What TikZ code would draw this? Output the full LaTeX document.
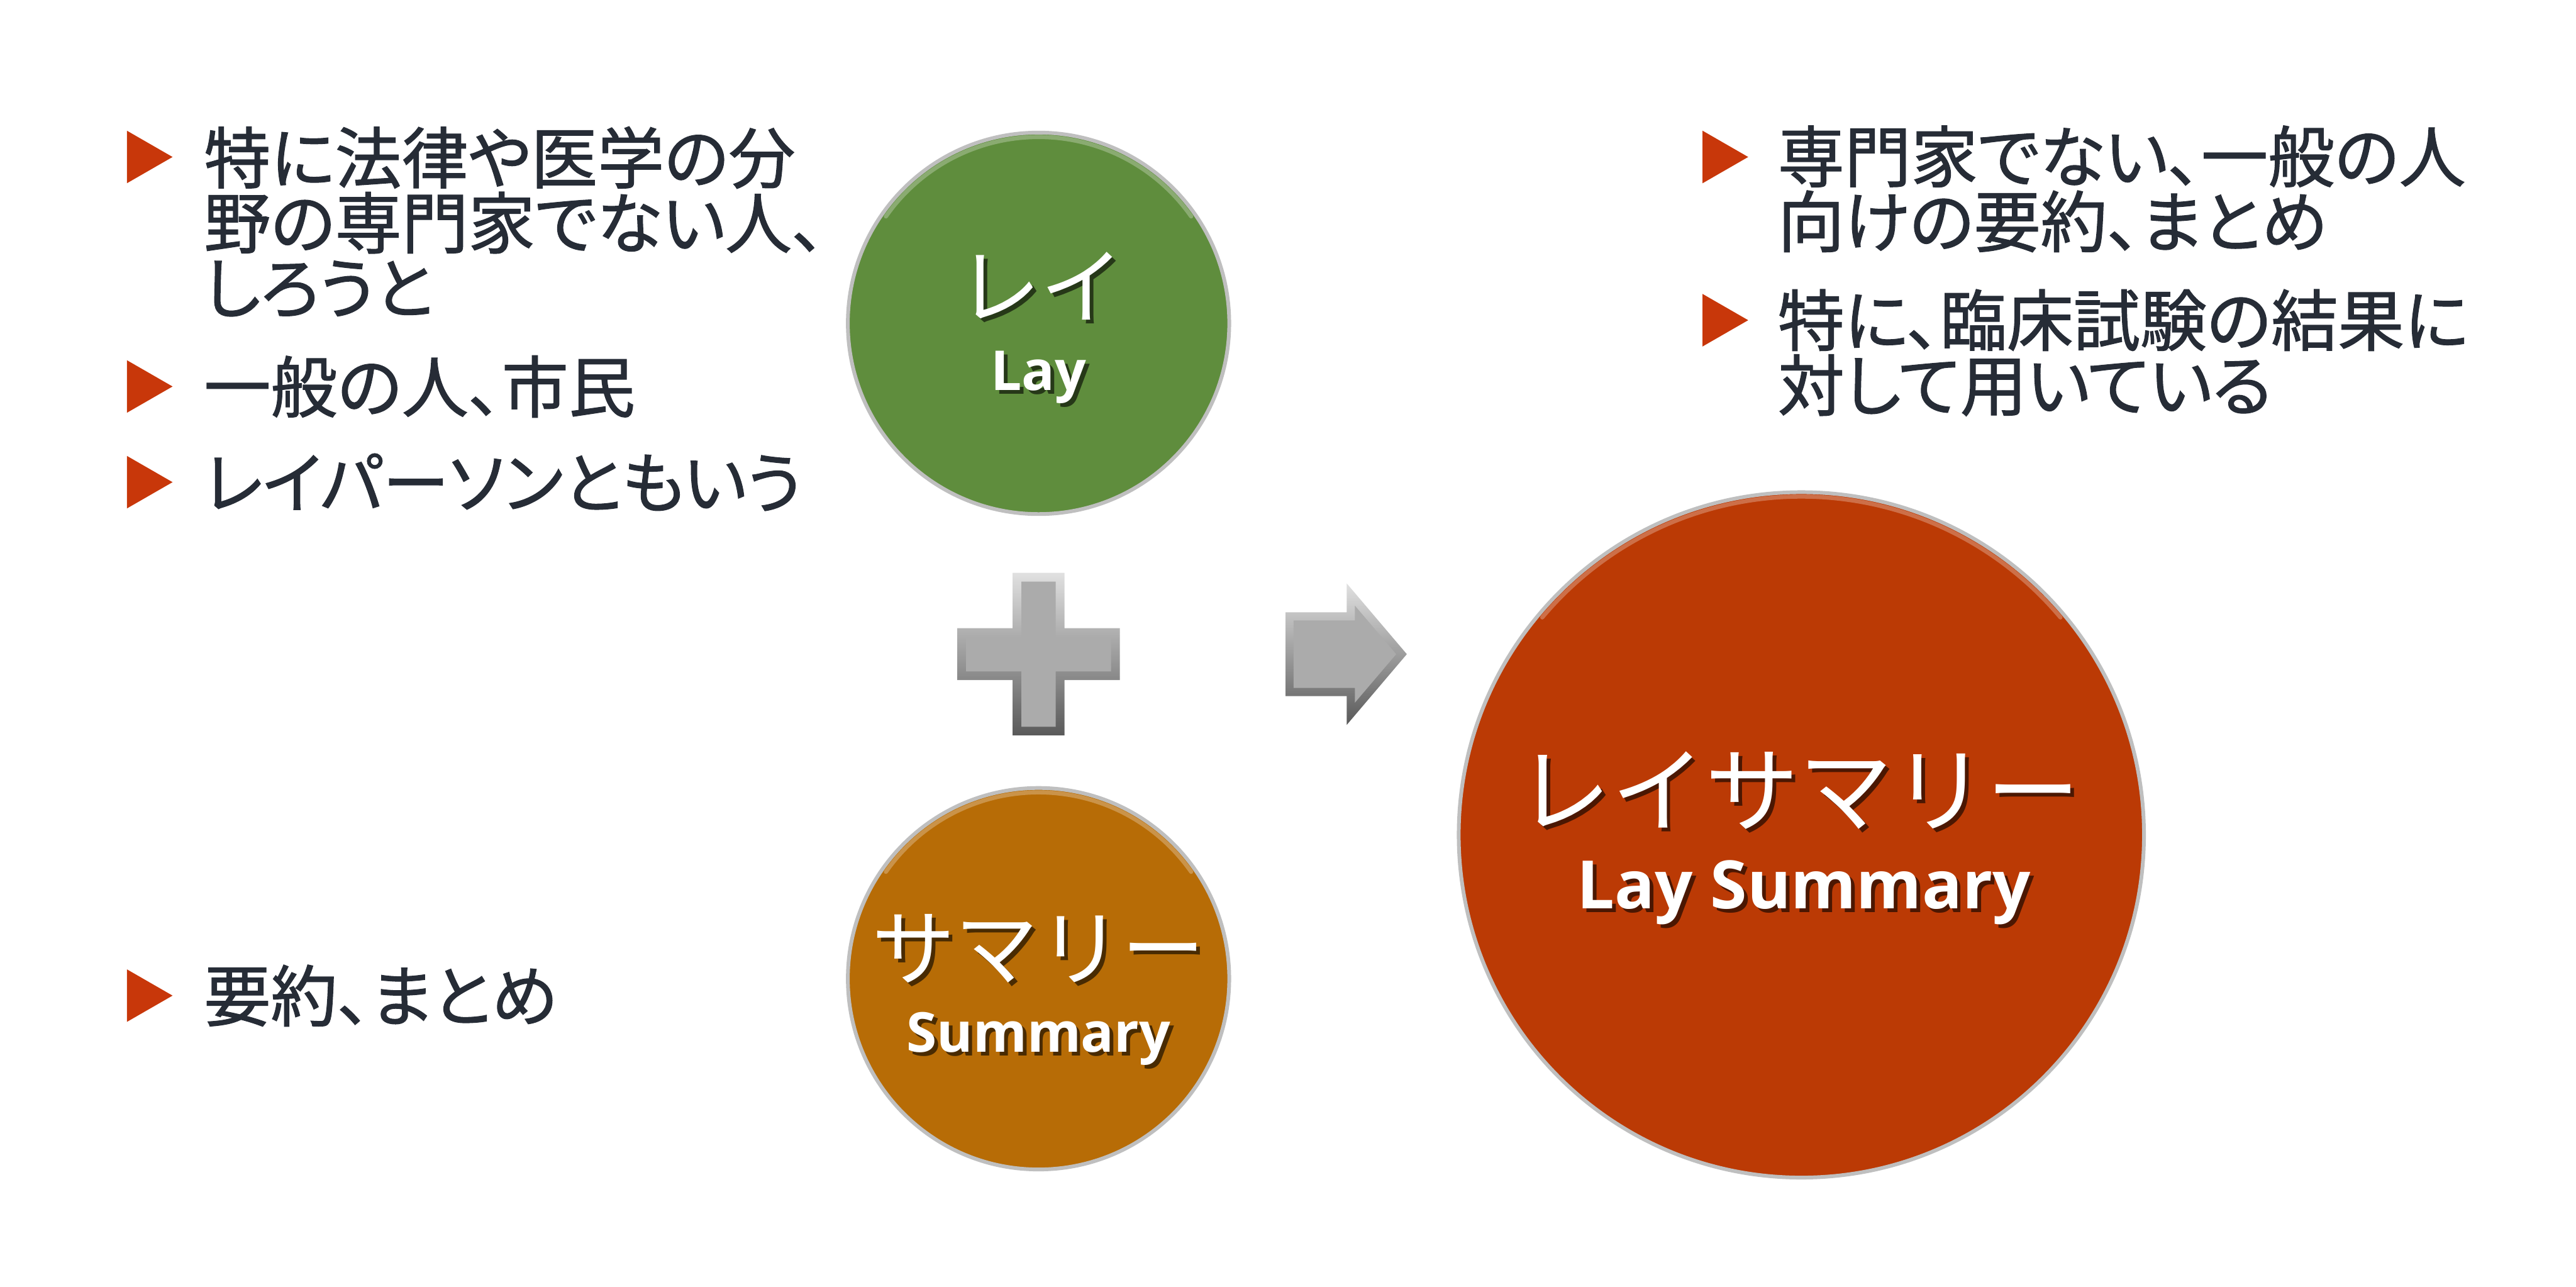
\documentclass[tikz,border=0pt]{standalone}
\usepackage{fontspec}
\newfontfamily\jpfont{Noto Sans CJK JP}
\newfontfamily\notefont{Noto Sans CJK JP}[RawFeature=+palt, FakeBold=1.2]
\newfontfamily\enfont{Open Sans}

\definecolor{textnavy}{RGB}{38,44,54}
\definecolor{bulletred}{RGB}{200,55,10}
\definecolor{laygreen}{RGB}{95,141,61}
\definecolor{sumorange}{RGB}{183,108,6}
\definecolor{layred}{RGB}{187,58,5}
\definecolor{facegray}{RGB}{171,171,171}

% white text with a dark copy under it
\newcommand{\shtext}[2]{\rlap{\kern0.9pt\raisebox{-0.9pt}{\color{#1}#2}}#2}

\tikzset{
  ball/.style={circle, draw=gray!50, line width=0.9pt, inner sep=0pt, outer sep=0pt},
  rim/.style={line width=1pt, line cap=round, opacity=0.45},
  bevel/.style={top color=black!12, bottom color=black!65},
  bullettext/.style={anchor=west, align=left, inner sep=0pt, text=textnavy, font=\notefont\fontsize{16}{15.6}\selectfont},
  balljp/.style={anchor=base, inner sep=0pt, text=white},
  ballen/.style={anchor=base, inner sep=0pt, text=white},
}

\begin{document}
\begin{tikzpicture}[x=0.75pt,y=0.75pt,yscale=-1,xscale=1]
%set diagram to the slide size
\path [fill=white] (0,0) rectangle (824,411.4);
\useasboundingbox (0,0) rectangle (824,411.4);

%Shape: Triangle
\fill [bulletred] (40.6,41.8) -- (55.2,50.2) -- (40.6,58.6) -- cycle ;
%Shape: Triangle
\fill [bulletred] (40.6,115.2) -- (55.2,123.6) -- (40.6,132) -- cycle ;
%Shape: Triangle
\fill [bulletred] (40.6,145.8) -- (55.2,154.2) -- (40.6,162.6) -- cycle ;
%Shape: Triangle
\fill [bulletred] (40.6,310) -- (55.2,318.4) -- (40.6,326.8) -- cycle ;
%Shape: Triangle
\fill [bulletred] (544.6,41.8) -- (559.2,50.2) -- (544.6,58.6) -- cycle ;
%Shape: Triangle
\fill [bulletred] (544.6,94) -- (559.2,102.4) -- (544.6,110.8) -- cycle ;

% Text Node
\node (legal) [bullettext] at (65,71) {特に法律や医学の分\\野の専門家でない人、\\しろうと};
% Text Node
\node (public) [bullettext] at (65,123.6) {一般の人、市民};
% Text Node
\node (person) [bullettext] at (65,154.2) {レイパーソンともいう};
% Text Node
\node (digest) [bullettext] at (65,318.4) {要約、まとめ};
% Text Node
\node (nonexpert) [bullettext] at (568.4,60.4) {専門家でない、一般の人\\向けの要約、まとめ};
% Text Node
\node (trials) [bullettext] at (568.4,112.8) {特に、臨床試験の結果に\\対して用いている};

%Shape: Circle
\node (lay) [ball, fill=laygreen, minimum size=91.5pt] at (332.2,103.4) {};
\draw [rim, laygreen!40!white] ([shift={(215:59.6)}]332.2,103.4) arc (215:325:59.6) ;
%Shape: Circle
\node (summ) [ball, fill=sumorange, minimum size=91.5pt] at (332.2,313) {};
\draw [rim, sumorange!40!white] ([shift={(215:59.6)}]332.2,313) arc (215:325:59.6) ;
%Shape: Circle
\node (laysum) [ball, fill=layred, minimum size=164.4pt] at (576.2,267) {};
\draw [rim, layred!40!white] ([shift={(220:108.2)}]576.2,267) arc (220:320:108.2) ;

% Text Node
\node (lay-jp) [balljp, font=\jpfont\fontsize{20}{24}\selectfont] at (332.9,101.4) {\shtext{laygreen!40!black}{レイ}};
% Text Node
\node (lay-en) [ballen, font=\enfont\bfseries\fontsize{13.2}{16}\selectfont] at (332.2,124.8) {\shtext{laygreen!40!black}{Lay}};
% Text Node
\node (summ-jp) [balljp, font=\jpfont\fontsize{20}{24}\selectfont] at (332.2,313.2) {\shtext{sumorange!40!black}{サマリー}};
% Text Node
\node (summ-en) [ballen, font=\enfont\bfseries\fontsize{13.2}{16}\selectfont] at (332.2,336.4) {\shtext{sumorange!40!black}{Summary}};
% Text Node
\node (laysum-jp) [balljp, font=\jpfont\fontsize{22.5}{27}\selectfont] at (575.4,263.8) {\shtext{layred!40!black}{レイサマリー}};
% Text Node
\node (laysum-en) [ballen, font=\enfont\bfseries\fontsize{16}{19}\selectfont] at (577,290.6) {\shtext{layred!40!black}{Lay Summary}};

%Shape: Plus
\shade [bevel] (323.9,183.2) -- (340.5,183.2) -- (340.5,200.9) -- (358.2,200.9) -- (358.2,217.5) -- (340.5,217.5) -- (340.5,235.2) -- (323.9,235.2) -- (323.9,217.5) -- (306.2,217.5) -- (306.2,200.9) -- (323.9,200.9) -- cycle ;
\fill [facegray] (326.7,186) -- (337.7,186) -- (337.7,203.7) -- (355.4,203.7) -- (355.4,214.7) -- (337.7,214.7) -- (337.7,232.4) -- (326.7,232.4) -- (326.7,214.7) -- (309,214.7) -- (309,203.7) -- (326.7,203.7) -- cycle ;

%Shape: Right Arrow
\shade [bevel] (411.2,195.8) -- (430.8,195.8) -- (430.8,186.6) -- (450,209.2) -- (430.8,231.8) -- (430.8,222.6) -- (411.2,222.6) -- cycle ;
\fill [facegray] (413.8,198.4) -- (433.4,198.4) -- (433.4,193.7) -- (446.6,209.2) -- (433.4,224.7) -- (433.4,220) -- (413.8,220) -- cycle ;

\end{tikzpicture}
\end{document}
